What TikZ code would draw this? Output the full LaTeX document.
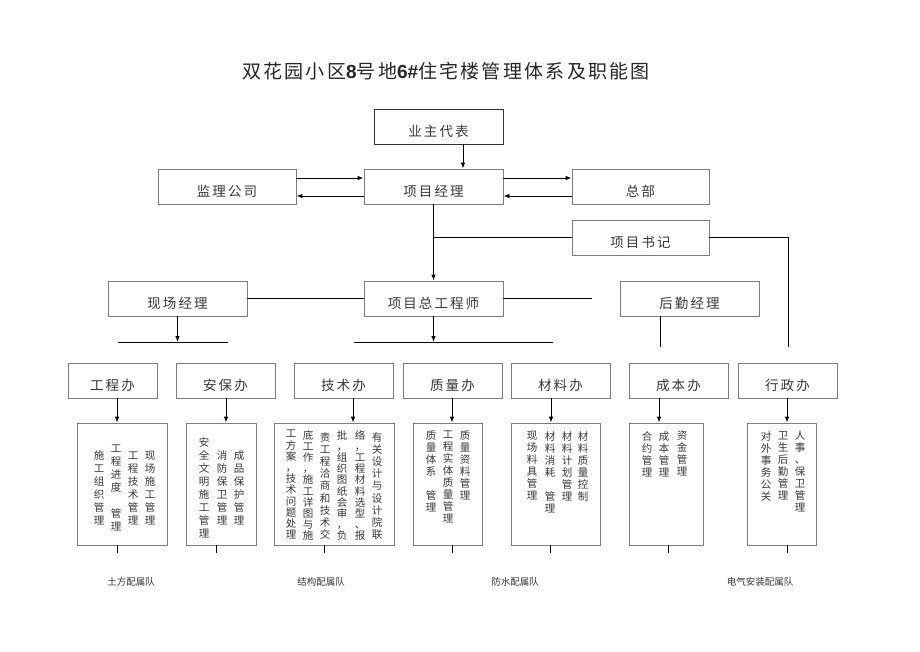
\documentclass[tikz,border=0pt]{standalone}
\usepackage{fontspec}
\setmainfont{Noto Sans CJK SC}
\newfontfamily\boxfont[LetterSpace=15]{Noto Sans CJK SC}
\newfontfamily\titlefont[LetterSpace=12]{Noto Sans CJK SC}
\newfontfamily\numfont{Liberation Sans}
\usetikzlibrary{arrows.meta}
\definecolor{boxgray}{RGB}{125,125,125}
\definecolor{txtgray}{RGB}{55,55,55}

% one character per line, for the duty columns
\ExplSyntaxOn
\NewDocumentCommand\vcol{O{12pt}m}{\vbox{\baselineskip=#1\lineskiplimit=-20pt\tl_map_inline:nn{#2}{\hbox to 11pt{\hss##1\hss}}}}
\ExplSyntaxOff

\begin{document}
\begin{tikzpicture}[x=1pt,y=-1pt,
  box/.style={draw=boxgray,line width=0.8pt,minimum height=35pt,inner sep=0pt,
    text height=27pt,text depth=8pt,text=txtgray,font=\boxfont\fontsize{13.5}{15}\selectfont},
  dbox/.style={draw=boxgray,line width=0.8pt,minimum height=122pt,inner sep=0pt},
  col/.style={inner sep=0pt,text=txtgray,font=\fontsize{10.5}{12}\selectfont},
  team/.style={inner sep=0pt,text=txtgray,font=\fontsize{9.5}{11}\selectfont},
  link/.style={line width=1pt},
  arr/.style={link,-{Latex[length=6pt,width=4.5pt]}}]
\useasboundingbox (0,0) rectangle (920,651);

\node[inner sep=0pt,text=black!85] (title) at (446,71)
  {\titlefont\fontsize{19}{22}\selectfont 双花园小区{\numfont\bfseries 8}号地{\numfont\bfseries 6\#}住宅楼管理体系及职能图};

% top level
\node[box,minimum width=129pt,draw=black!80] (owner) at (438.5,126.5) {业主代表};
\node[box,minimum width=139pt] (pm) at (433.5,186.5) {项目经理};
\node[box,minimum width=138pt] (sup) at (227,186.5) {监理公司};
\node[box,minimum width=137pt] (hq) at (640.5,186.5) {总部};
\node[box,minimum width=137pt] (sec) at (640.5,237.5) {项目书记};
\node[box,minimum width=139pt] (site) at (177.5,298.5) {现场经理};
\node[box,minimum width=139pt] (ce) at (433.5,298.5) {项目总工程师};
\node[box,minimum width=139pt] (lg) at (689.5,298.5) {后勤经理};

\draw[arr] (463,0 |- owner.south) -- (463,0 |- pm.north);
\draw[arr] ([yshift=8.5pt]sup.east) -- ([yshift=8.5pt]pm.west);
\draw[arr] ([yshift=-9.5pt]pm.west) -- ([yshift=-9.5pt]sup.east);
\draw[arr] ([yshift=8.5pt]pm.east) -- ([yshift=8.5pt]hq.west);
\draw[arr] ([yshift=-9.5pt]hq.west) -- ([yshift=-9.5pt]pm.east);
\draw[arr] (pm) -- (ce);
\draw[link] (pm.south |- sec.west) -- (sec.west);
\coordinate (secend) at (788,347);
\draw[link] (sec.east) -| (secend);
\coordinate (ceend) at (592,298.5);
\draw[link] (site) -- (ce);
\draw[link] (ce.east) -- (ceend);
\coordinate (lgend) at (660,347);
\draw[link] (lgend |- lg.south) -- (lgend);

% bars under the two managers
\coordinate (bar1) at (177.5,342);
\coordinate (bar2) at (433.5,342);
\draw[arr] (site) -- (bar1);
\draw[arr] (ce) -- (bar2);
\draw[link] ([xshift=-60pt]bar1) -- ([xshift=50pt]bar1);
\draw[link] ([xshift=-80pt]bar2) -- ([xshift=119pt]bar2);

% offices
\foreach \n/\x/\w/\t in {gcb/112.5/89/工程办, abb/225.5/99/安保办, jsb/343.5/99/技术办,
    zlb/452.5/99/质量办, clb/560.5/99/材料办, cbb/678.5/99/成本办, xzb/787.5/99/行政办}
  \node[box,minimum width=\w pt] (\n) at (\x,380.5) {\t};

% duty boxes
\foreach \n/\x/\w in {d1/122/90, d2/221/70, d3/334/120, d4/447.5/69, d5/555.5/89, d6/666/74, d7/781.5/69}
  \node[dbox,minimum width=\w pt] (\n) at (\x,484) {};

\foreach \o/\d/\a/\t in {gcb/d1/117/117, abb/d2/226/216, jsb/d3/353/324, zlb/d4/452/452,
    clb/d5/551/550, cbb/d6/659/668, xzb/d7/787/787}{
  \draw[arr] (\a,0 |- \o.south) -- (\a,0 |- \d.north);
  \draw[link] (\t,0 |- \d.south) -- ++(0,8);
}

% duty columns, read right to left
\node[col] (d1a) at (150,488) {\vcol[13pt]{现场施工管理}};
\node[col] (d1b) at (133,488) {\vcol[13pt]{工程技术管理}};
\node[col] (d1c) at (116,488) {\vcol[13pt]{工程进度　管理}};
\node[col] (d1d) at (99,488) {\vcol[13pt]{施工组织管理}};

\node[col] (d2a) at (239,488) {\vcol[13pt]{成品保护管理}};
\node[col] (d2b) at (222,488) {\vcol[13pt]{消防保卫管理}};
\node[col] (d2c) at (204,488) {\vcol[13pt]{安全文明施工管理}};

\node[col,anchor=north] (d3a) at (377,432) {\vcol[12.2pt]{有关设计与设计院联}};
\node[col,anchor=north] (d3b) at (360,430) {\vcol[11.2pt]{络，工程材料选型、报}};
\node[col,anchor=north] (d3c) at (342,430) {\vcol[11.2pt]{批，组织图纸会审，负}};
\node[col,anchor=north] (d3d) at (325,432) {\vcol[12.2pt]{责工程洽商和技术交}};
\node[col,anchor=north] (d3e) at (308,430) {\vcol[11.2pt]{底工作，施工详图与施}};
\node[col,anchor=north] (d3f) at (291,430) {\vcol[11.2pt]{工方案，技术问题处理}};

\node[col,anchor=north] (d4a) at (465,431) {\vcol{质量资料管理}};
\node[col,anchor=north] (d4b) at (448,431) {\vcol{工程实体质量管理}};
\node[col,anchor=north] (d4c) at (431,431) {\vcol{质量体系　管理}};

\node[col,anchor=north] (d5a) at (583,431) {\vcol{材料质量控制}};
\node[col,anchor=north] (d5b) at (567,431) {\vcol{材料计划管理}};
\node[col,anchor=north] (d5c) at (550,431) {\vcol{材料消耗　管理}};
\node[col,anchor=north] (d5d) at (532,431) {\vcol{现场料具管理}};

\node[col,anchor=north] (d6a) at (682,431) {\vcol{资金管理}};
\node[col,anchor=north] (d6b) at (664,431) {\vcol{成本管理}};
\node[col,anchor=north] (d6c) at (647,431) {\vcol{合约管理}};

\node[col,anchor=north] (d7a) at (800,431) {\vcol{人事、保卫管理}};
\node[col,anchor=north] (d7b) at (783,431) {\vcol{卫生后勤管理}};
\node[col,anchor=north] (d7c) at (766,431) {\vcol{对外事务公关}};

% teams
\node[team] (t1) at (131,582) {土方配属队};
\node[team] (t2) at (321,582) {结构配属队};
\node[team] (t3) at (515,582) {防水配属队};
\node[team] (t4) at (760,582) {电气安装配属队};
\end{tikzpicture}
\end{document}
